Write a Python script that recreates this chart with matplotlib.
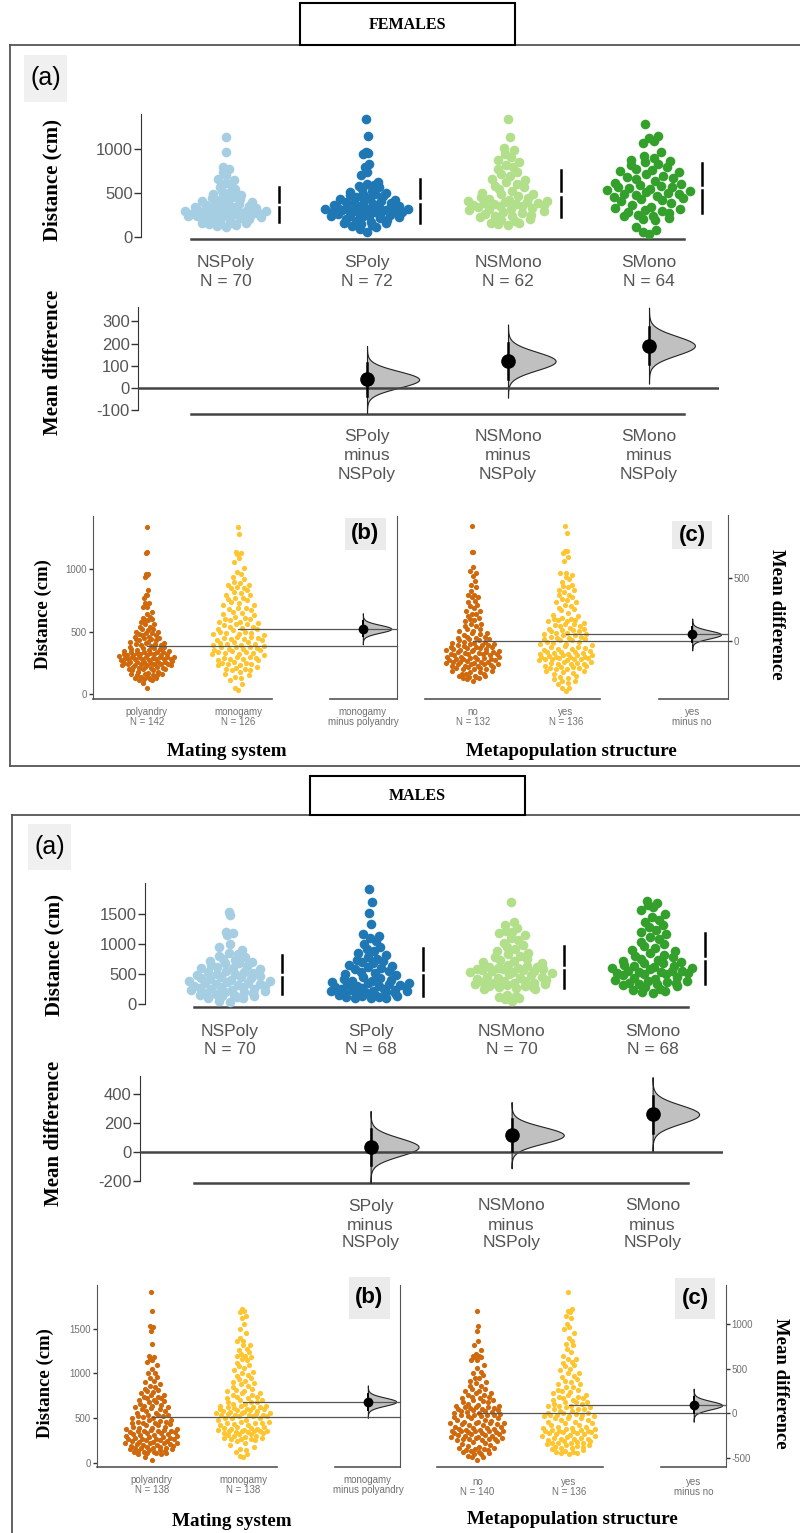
import numpy as np
import matplotlib
matplotlib.use("Agg")
import matplotlib.pyplot as plt
from matplotlib import transforms
from matplotlib.patches import Rectangle

plt.rcParams["axes.unicode_minus"] = False

W, H = 800, 1533

# ---- data: distance moved (cm) ----
group_names = ["NSPoly", "SPoly", "NSMono", "SMono"]
group_cols = ["#A6CEE3", "#1F78B4", "#B2DF8A", "#33A02C"]
col_first = "#D0680C"    # polyandry / no
col_second = "#FFC52F"   # monogamy / yes

f_nspoly = [1130, 960, 790, 770, 730, 700, 660, 640, 610, 590, 560, 540, 520, 500, 490,
            470, 460, 450, 440, 430, 420, 410, 400, 390, 380, 370, 360, 350, 345, 340,
            330, 325, 320, 310, 300, 295, 290, 285, 280, 270, 265, 260, 255, 250, 245,
            240, 235, 230, 340, 220, 320, 210, 200, 300, 190, 280, 175, 260, 160, 230,
            150, 140, 210, 130, 120, 200, 110, 160, 150, 240]
f_spoly = [1335, 1140, 960, 950, 935, 830, 790, 730, 700, 620, 600, 590, 580, 560, 540,
           520, 510, 500, 490, 480, 470, 460, 450, 440, 430, 420, 410, 400, 390, 385,
           380, 370, 360, 350, 345, 340, 335, 330, 320, 315, 310, 305, 300, 300, 295,
           290, 285, 280, 270, 260, 250, 240, 230, 220, 210, 200, 190, 180, 170, 160,
           150, 140, 130, 120, 110, 280, 260, 240, 220, 90, 50, 310]
f_nsmono = [1335, 1130, 1010, 980, 940, 900, 870, 850, 820, 790, 770, 740, 710, 690, 660,
            640, 620, 600, 580, 560, 540, 520, 500, 490, 480, 460, 450, 440, 430, 420,
            410, 400, 395, 390, 385, 380, 375, 370, 360, 355, 350, 345, 340, 330, 320,
            310, 300, 290, 280, 270, 260, 250, 240, 230, 220, 200, 190, 180, 160, 150,
            140, 130]
f_smono = [1280, 1140, 1120, 1090, 1060, 960, 920, 890, 870, 850, 830, 810, 790, 770, 750,
           730, 710, 690, 670, 650, 630, 610, 600, 590, 580, 570, 560, 550, 540, 530,
           520, 510, 500, 490, 480, 470, 460, 450, 440, 430, 420, 400, 380, 360, 340,
           330, 320, 300, 290, 280, 270, 250, 240, 230, 210, 200, 190, 680, 760, 860,
           110, 80, 50, 30]

m_nspoly = [1530, 1480, 1200, 1180, 1150, 1000, 950, 900, 860, 830, 800, 780, 760, 740, 720,
            700, 680, 650, 620, 600, 580, 560, 540, 520, 500, 480, 460, 450, 440, 430,
            420, 400, 390, 380, 370, 360, 350, 340, 330, 320, 310, 300, 470, 290, 510,
            280, 530, 270, 610, 260, 640, 250, 690, 240, 230, 220, 210, 200, 190, 180,
            170, 160, 150, 140, 130, 120, 110, 100, 60, 30]
m_spoly = [1910, 1700, 1520, 1330, 1160, 1130, 1100, 1050, 1000, 960, 920, 880, 850, 820, 790,
           760, 740, 720, 700, 680, 660, 640, 620, 600, 580, 560, 540, 520, 500, 480,
           460, 440, 420, 400, 390, 380, 370, 360, 350, 340, 330, 320, 310, 300, 290,
           280, 270, 260, 250, 240, 230, 225, 220, 215, 210, 200, 190, 180, 170, 160,
           150, 140, 130, 125, 120, 110, 105, 100]
m_nsmono = [1700, 1360, 1320, 1260, 1220, 1200, 1180, 1150, 1100, 1060, 1020, 980, 950, 920, 890,
            860, 830, 800, 780, 760, 740, 720, 700, 680, 660, 640, 620, 600, 590, 580,
            570, 560, 550, 540, 530, 520, 500, 480, 460, 450, 440, 430, 420, 400, 390,
            380, 370, 360, 350, 340, 330, 320, 310, 300, 290, 280, 270, 260, 250, 360,
            620, 610, 590, 570, 150, 140, 120, 100, 80, 60]
m_smono = [1720, 1690, 1650, 1620, 1560, 1500, 1450, 1400, 1360, 1320, 1280, 1240, 1200, 1160, 1120,
           1080, 1040, 1000, 970, 940, 910, 880, 850, 820, 800, 780, 760, 740, 720, 700,
           680, 660, 640, 620, 600, 580, 560, 550, 540, 530, 520, 500, 480, 460, 440,
           420, 400, 390, 380, 370, 360, 350, 340, 330, 320, 300, 280, 260, 240, 220,
           200, 180, 680, 640, 600, 560, 520, 500]

SANS = ["Liberation Sans", "DejaVu Sans"]
SERIF = ["Liberation Serif", "DejaVu Serif"]

fig = plt.figure(figsize=(W / 100, H / 100), dpi=100)
ov = fig.add_axes([0, 0, 1, 1])
ov.set_xlim(0, W)
ov.set_ylim(H, 0)
ov.axis("off")


def px_axes(x0, y0, x1, y1):
    ax = fig.add_axes([x0 / W, 1 - y1 / H, (x1 - x0) / W, (y1 - y0) / H])
    ax.set_facecolor("none")
    for s in ax.spines.values():
        s.set_visible(False)
    ax.set_xticks([])
    return ax


def vdc(n):
    # van der Corput sequence, base 2
    out = []
    for k in range(1, n + 1):
        x, denom = 0.0, 1.0
        while k:
            denom *= 2
            x += (k % 2) / denom
            k //= 2
        out.append(x)
    return np.array(out)


# quasirandom offsets (density scaled, like ggbeeswarm)
def quasi_x(vals, width):
    v = np.asarray(vals, float)
    n = len(v)
    q75, q25 = np.percentile(v, [75, 25])
    bw = 0.9 * min(v.std(ddof=1), (q75 - q25) / 1.34) * n ** -0.2
    grid = np.linspace(v.min() - 3 * bw, v.max() + 3 * bw, 512)
    dens = np.exp(-0.5 * ((grid[:, None] - v[None, :]) / bw) ** 2).sum(1)
    dens /= dens.max()
    off = np.interp(v, grid, dens)
    rank = np.argsort(np.argsort(v, kind="stable"), kind="stable")
    return off * (vdc(n)[rank] * 2 - 1) * width


def half_violin(ax, x, mid, se, width, z=4):
    yy = np.linspace(mid - 4 * se, mid + 4 * se, 161)
    ww = width * np.exp(-0.5 * ((yy - mid) / se) ** 2)
    ax.fill_betweenx(yy, x, x + ww, facecolor="#C0C0C0", edgecolor="#222222", lw=0.8, zorder=z)


def style_ticks(ax, size, color, length=4):
    ax.tick_params(axis="y", labelsize=size, labelcolor=color, length=length,
                   width=1, color="#333333", pad=1)
    for t in ax.get_yticklabels():
        t.set_fontfamily(SANS)


#Panel (a): four groups + shared-control mean differences
def panel_a(data, c0, step, raw_box, raw_ylim, raw_ticks, diff_box, diff_ylim, diff_ticks,
            lab_y, dlab_y):
    ax = px_axes(*raw_box)
    xl = ((raw_box[0] - c0) / step, (raw_box[2] - c0) / step)
    ax.set_xlim(*xl)
    ax.set_ylim(*raw_ylim)
    gap = 0.022 * (raw_ylim[1] - raw_ylim[0])
    for i, (v, col) in enumerate(zip(data, group_cols)):
        v = np.asarray(v, float)
        ax.scatter(i + quasi_x(v, 0.31), v, s=48, color=col, lw=0, zorder=3)
        m, sd = v.mean(), v.std(ddof=1)
        ax.plot([i + 0.375] * 2, [m - sd, m - gap], color="black", lw=1.8)
        ax.plot([i + 0.375] * 2, [m + gap, m + sd], color="black", lw=1.8)
    ax.spines["left"].set_visible(True)
    ax.spines["left"].set_color("#333333")
    ax.spines["left"].set_bounds(0, raw_ylim[1])
    ax.set_yticks(raw_ticks)
    style_ticks(ax, 12, "#555555", 5)
    ax.plot([-0.25, 3.25], [raw_ylim[0]] * 2, color="#444444", lw=1.8, clip_on=False)
    tr = transforms.blended_transform_factory(ax.transData, ov.transData)
    for i, (name, v) in enumerate(zip(group_names, data)):
        ax.text(i, lab_y[0], name, transform=tr, ha="center", va="center",
                fontsize=12.5, color="#555555", family=SANS)
        ax.text(i, lab_y[1], f"N = {len(v)}", transform=tr, ha="center", va="center",
                fontsize=12.5, color="#555555", family=SANS)

    dx = px_axes(*diff_box)
    dx.set_xlim((diff_box[0] - c0) / step, (diff_box[2] - c0) / step)
    dx.set_ylim(*diff_ylim)
    ref = np.asarray(data[0], float)
    ses = [np.sqrt(np.var(v, ddof=1) / len(v) + ref.var(ddof=1) / len(ref)) for v in data[1:]]
    for i, (v, se) in enumerate(zip(data[1:], ses), start=1):
        d = np.mean(v) - ref.mean()
        half_violin(dx, i, d, se, 0.37 * min(ses) / se)
        dx.plot([i, i], [d - 1.96 * se, d + 1.96 * se], color="black", lw=1.8, zorder=6)
        dx.plot(i, d, "o", ms=9.5, color="black", zorder=7)
    dx.axhline(0, color="#444444", lw=1.8, zorder=5)
    dx.plot([-0.25, 3.25], [diff_ylim[0]] * 2, color="#444444", lw=1.8, clip_on=False)
    dx.spines["left"].set_visible(True)
    dx.spines["left"].set_color("#333333")
    dx.spines["left"].set_bounds(diff_ticks[0], diff_ylim[1])
    dx.set_yticks(diff_ticks)
    style_ticks(dx, 12, "#555555", 5)
    tr = transforms.blended_transform_factory(dx.transData, ov.transData)
    for i in range(1, 4):
        for s, yy in zip([group_names[i], "minus", group_names[0]], dlab_y):
            dx.text(i, yy, s, transform=tr, ha="center", va="center",
                    fontsize=12.5, color="#555555", family=SANS)


#Panels (b) and (c): two pooled groups + one mean difference
def panel_two(v0, v1, names, box, c0, step, ylim, side, ticks, lab_y):
    D = 2.36
    ax = px_axes(*box)
    xl = ((box[0] - c0) / step, (box[2] - c0) / step)
    ax.set_xlim(*xl)
    ax.set_ylim(*ylim)
    v0, v1 = np.asarray(v0, float), np.asarray(v1, float)
    for i, (v, col) in enumerate(((v0, col_first), (v1, col_second))):
        ax.scatter(i + quasi_x(v, 0.31), v, s=14, color=col, lw=0, zorder=3)
    m0, m1 = v0.mean(), v1.mean()
    ax.plot([0, xl[1]], [m0, m0], color="#555555", lw=0.9, zorder=5, clip_on=False)
    ax.plot([1, xl[1]], [m1, m1], color="#555555", lw=0.9, zorder=5, clip_on=False)
    se = np.sqrt(v0.var(ddof=1) / len(v0) + v1.var(ddof=1) / len(v1))
    half_violin(ax, D, m1, se, 0.31)
    ax.plot([D, D], [m1 - 1.96 * se, m1 + 1.96 * se], color="black", lw=1.4, zorder=6)
    ax.plot(D, m1, "o", ms=6, color="black", zorder=7)
    ax.plot([xl[0], 1.37], [ylim[0]] * 2, color="#555555", lw=1.2, clip_on=False)
    ax.plot([2.0, xl[1]], [ylim[0]] * 2, color="#555555", lw=1.2, clip_on=False)
    ax.spines["right"].set_visible(True)
    ax.spines["right"].set_color("#555555")
    if side == "left":
        ax.spines["left"].set_visible(True)
        ax.spines["left"].set_color("#555555")
        ax.set_yticks(ticks)
    else:
        ax.yaxis.tick_right()
        ax.set_yticks([m0 + t for t in ticks])
        ax.set_yticklabels([str(t) for t in ticks])
    style_ticks(ax, 7, "#707070", 3)
    tr = transforms.blended_transform_factory(ax.transData, ov.transData)
    rows = [(0, names[0], f"N = {len(v0)}"), (1, names[1], f"N = {len(v1)}"),
            (D, names[1], f"minus {names[0]}")]
    for x, a, b in rows:
        ax.text(x, lab_y[0], a, transform=tr, ha="center", va="center", fontsize=7,
                color="#707070", family=SANS)
        ax.text(x, lab_y[1], b, transform=tr, ha="center", va="center", fontsize=7,
                color="#707070", family=SANS)


def tag(x0, y0, x1, y1, s, size, weight, bg):
    ov.add_patch(Rectangle((x0, y0), x1 - x0, y1 - y0, facecolor=bg, edgecolor="none"))
    ov.text((x0 + x1) / 2, (y0 + y1) / 2, s, ha="center", va="center", fontsize=size,
            family=SANS, weight=weight)


def section(box, title, frame_top, frame_left, frame_bottom):
    ov.plot([frame_left, W], [frame_top, frame_top], color="#555555", lw=1.3)
    ov.plot([frame_left, frame_left], [frame_top, frame_bottom], color="#555555", lw=1.3)
    if frame_bottom < H:
        ov.plot([frame_left, W], [frame_bottom, frame_bottom], color="#555555", lw=1.3)
    ov.add_patch(Rectangle((box[0], box[1]), box[2] - box[0], box[3] - box[1],
                           facecolor="white", edgecolor="black", lw=1.5, zorder=3))
    ov.text((box[0] + box[2]) / 2, (box[1] + box[3]) / 2 + 1, title, ha="center", va="center",
            fontsize=11.5, family=SERIF, weight="bold", zorder=4)


def ylab(x, y, s, size, rot=90):
    ov.text(x, y, s, rotation=rot, ha="center", va="center", fontsize=size,
            family=SERIF, weight="bold")


def xlab(x, y, s):
    ov.text(x, y, s, ha="center", va="center", fontsize=13.8, family=SERIF, weight="bold")


# ---------------- FEMALES ----------------
section((300, 3, 515, 45), "FEMALES", 45, 10, 766)
tag(24, 55, 67, 102, "(a)", 18, "normal", "#F0F0F0")
fem = [f_nspoly, f_spoly, f_nsmono, f_smono]
panel_a(fem, 226, 141, (141, 114, 725, 238.7), (-23, 1394), [0, 500, 1000],
        (138, 307.3, 719, 414), (-119, 364), [-100, 0, 100, 200, 300],
        (262.7, 281), (436.7, 456, 474))
ylab(52, 180, "Distance (cm)", 15)
ylab(53, 362, "Mean difference", 15)

panel_two(f_nspoly + f_spoly, f_nsmono + f_smono, ["polyandry", "monogamy"],
          (92.7, 516, 396.7, 699), 146.7, 91.6, (-38, 1424), "left", [0, 500, 1000],
          (711.7, 721.7))
panel_two(f_nspoly + f_nsmono, f_spoly + f_smono, ["no", "yes"],
          (425, 515, 728.3, 699.3), 472.7, 93, (-38, 1424), "right", [0, 500],
          (711.7, 721.7))
tag(345, 518, 386, 550, "(b)", 16, "bold", "#EBEBEB")
tag(672, 521, 712, 549, "(c)", 16, "bold", "#EBEBEB")
ylab(43, 614, "Distance (cm)", 13.5)
ylab(777, 614, "Mean difference", 13.5, rot=270)
xlab(227, 752, "Mating system")
xlab(571, 751, "Metapopulation structure")

# ---------------- MALES ----------------
section((310, 776, 525, 815), "MALES", 815, 12, H + 5)
tag(28, 824, 71, 870, "(a)", 18, "normal", "#F0F0F0")
mal = [m_nspoly, m_spoly, m_nsmono, m_smono]
panel_a(mal, 229.6, 141, (145, 882.7, 725, 1007.3), (-50, 2020), [0, 500, 1000, 1500],
        (140, 1076, 723, 1182.7), (-212, 524), [-200, 0, 200, 400],
        (1031.7, 1049), (1206, 1225, 1243))
ylab(54, 955, "Distance (cm)", 15)
ylab(54, 1133, "Mean difference", 15)

panel_two(m_nspoly + m_spoly, m_nsmono + m_smono, ["polyandry", "monogamy"],
          (96.7, 1285, 400, 1467.3), 151.7, 91.6, (-52, 1992), "left", [0, 500, 1000, 1500],
          (1480, 1490))
panel_two(m_nspoly + m_nsmono, m_spoly + m_smono, ["no", "yes"],
          (436.7, 1285, 726, 1467.3), 477.3, 91.7, (-52, 1992), "right", [-500, 0, 500, 1000],
          (1481.7, 1492.3))
tag(349, 1277, 390, 1319, "(b)", 16, "bold", "#EBEBEB")
tag(675, 1278, 715, 1319, "(c)", 16, "bold", "#EBEBEB")
ylab(45, 1383, "Distance (cm)", 13.5)
ylab(780, 1383, "Mean difference", 13.5, rot=270)
xlab(232, 1521, "Mating system")
xlab(572, 1520, "Metapopulation structure")

fig.savefig("out.png", dpi=100)
